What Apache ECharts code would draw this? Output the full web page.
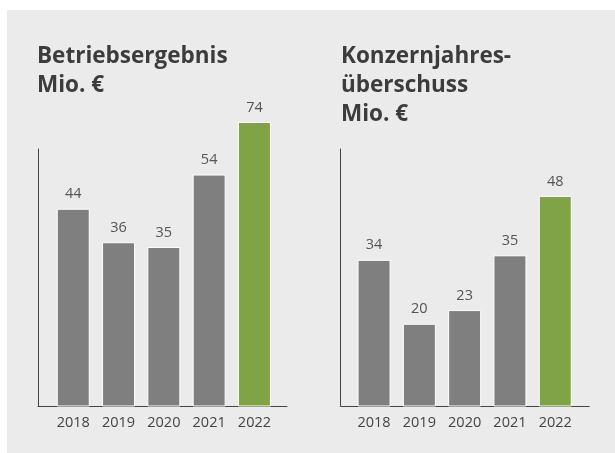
<!DOCTYPE html>
<html>
<head>
<meta charset="utf-8">
<script src="https://cdn.jsdelivr.net/npm/echarts@6/dist/echarts.min.js"></script>
<style>
  html, body { margin: 0; padding: 0; background: #fff; }
  #chart { width: 615px; height: 453px; }
</style>
</head>
<body>
<div id="chart"></div>
<script>
// Daten
const years = ['2018', '2019', '2020', '2021', '2022'];
const betriebsergebnis = [44, 36, 35, 54, 74];
const konzernjahresueberschuss = [34, 20, 23, 35, 48];

const GRAY = '#7f7f7f';
const GREEN = '#80a346';
const font = '"Open Sans", "Noto Sans", sans-serif';

// letzter Balken grün
const barItems = (vals) => vals.map((v, i) => ({
    value: v,
    itemStyle: {color: i === vals.length - 1 ? GREEN : GRAY}
}));

const frameAxis = (grid) => ({
    gridIndex: grid,
    type: 'value',
    min: 0,
    max: 1,
    axisLine: {show: true, onZero: false, lineStyle: {color: '#444', width: 1}},
    axisTick: {show: false},
    axisLabel: {show: false},
    splitLine: {show: false}
});

const titleStyle = {fontFamily: font, fontSize: 22.5, fontWeight: 'bold', color: '#3c3c3c', lineHeight: 29};
const yearLabel = {color: '#444', fontSize: 14.5, margin: 9, fontFamily: font};
const valueLabel = {show: true, position: 'top', distance: 7, color: '#555', fontSize: 14.5, fontFamily: font};

const chart = echarts.init(document.getElementById('chart'));
chart.setOption({
    backgroundColor: '#fff',
    animation: false,
    textStyle: {fontFamily: font},
    graphic: [{
        type: 'rect',
        z: -10,
        shape: {x: 7, y: 10, width: 608, height: 443},
        style: {fill: '#ebebeb'}
    }],
    title: [
        {text: 'Betriebsergebnis\nMio. €', left: 37, top: 42, padding: 0, textStyle: titleStyle},
        {text: 'Konzernjahres-\nüberschuss\nMio. €', left: 341, top: 42, padding: 0, textStyle: titleStyle}
    ],
    grid: [
        // Rahmen (Achsenlinien)
        {left: 38, top: 149, width: 249, height: 257},
        // Balken links
        {left: 50.6, top: 100, width: 226.5, height: 306},
        // Rahmen rechts
        {left: 340.7, top: 149, width: 248.6, height: 257},
        // Balken rechts
        {left: 351.4, top: 100, width: 226.5, height: 306}
    ],
    xAxis: [
        frameAxis(0),
        {
            gridIndex: 1, type: 'category', data: years,
            axisLine: {show: false}, axisTick: {show: false}, axisLabel: yearLabel
        },
        frameAxis(2),
        {
            gridIndex: 3, type: 'category', data: years,
            axisLine: {show: false}, axisTick: {show: false}, axisLabel: yearLabel
        }
    ],
    yAxis: [
        frameAxis(0),
        {gridIndex: 1, type: 'log', min: 13.5, max: 84.4, show: false},
        frameAxis(2),
        {gridIndex: 3, type: 'value', min: 2, max: 69, show: false}
    ],
    series: [
        {
            type: 'bar', xAxisIndex: 1, yAxisIndex: 1,
            data: barItems(betriebsergebnis),
            barWidth: 33,
            itemStyle: {borderColor: '#fff', borderWidth: 1},
            label: valueLabel
        },
        {
            type: 'bar', xAxisIndex: 3, yAxisIndex: 3,
            data: barItems(konzernjahresueberschuss),
            barWidth: 33,
            itemStyle: {borderColor: '#fff', borderWidth: 1},
            label: valueLabel
        }
    ]
});
</script>
</body>
</html>
